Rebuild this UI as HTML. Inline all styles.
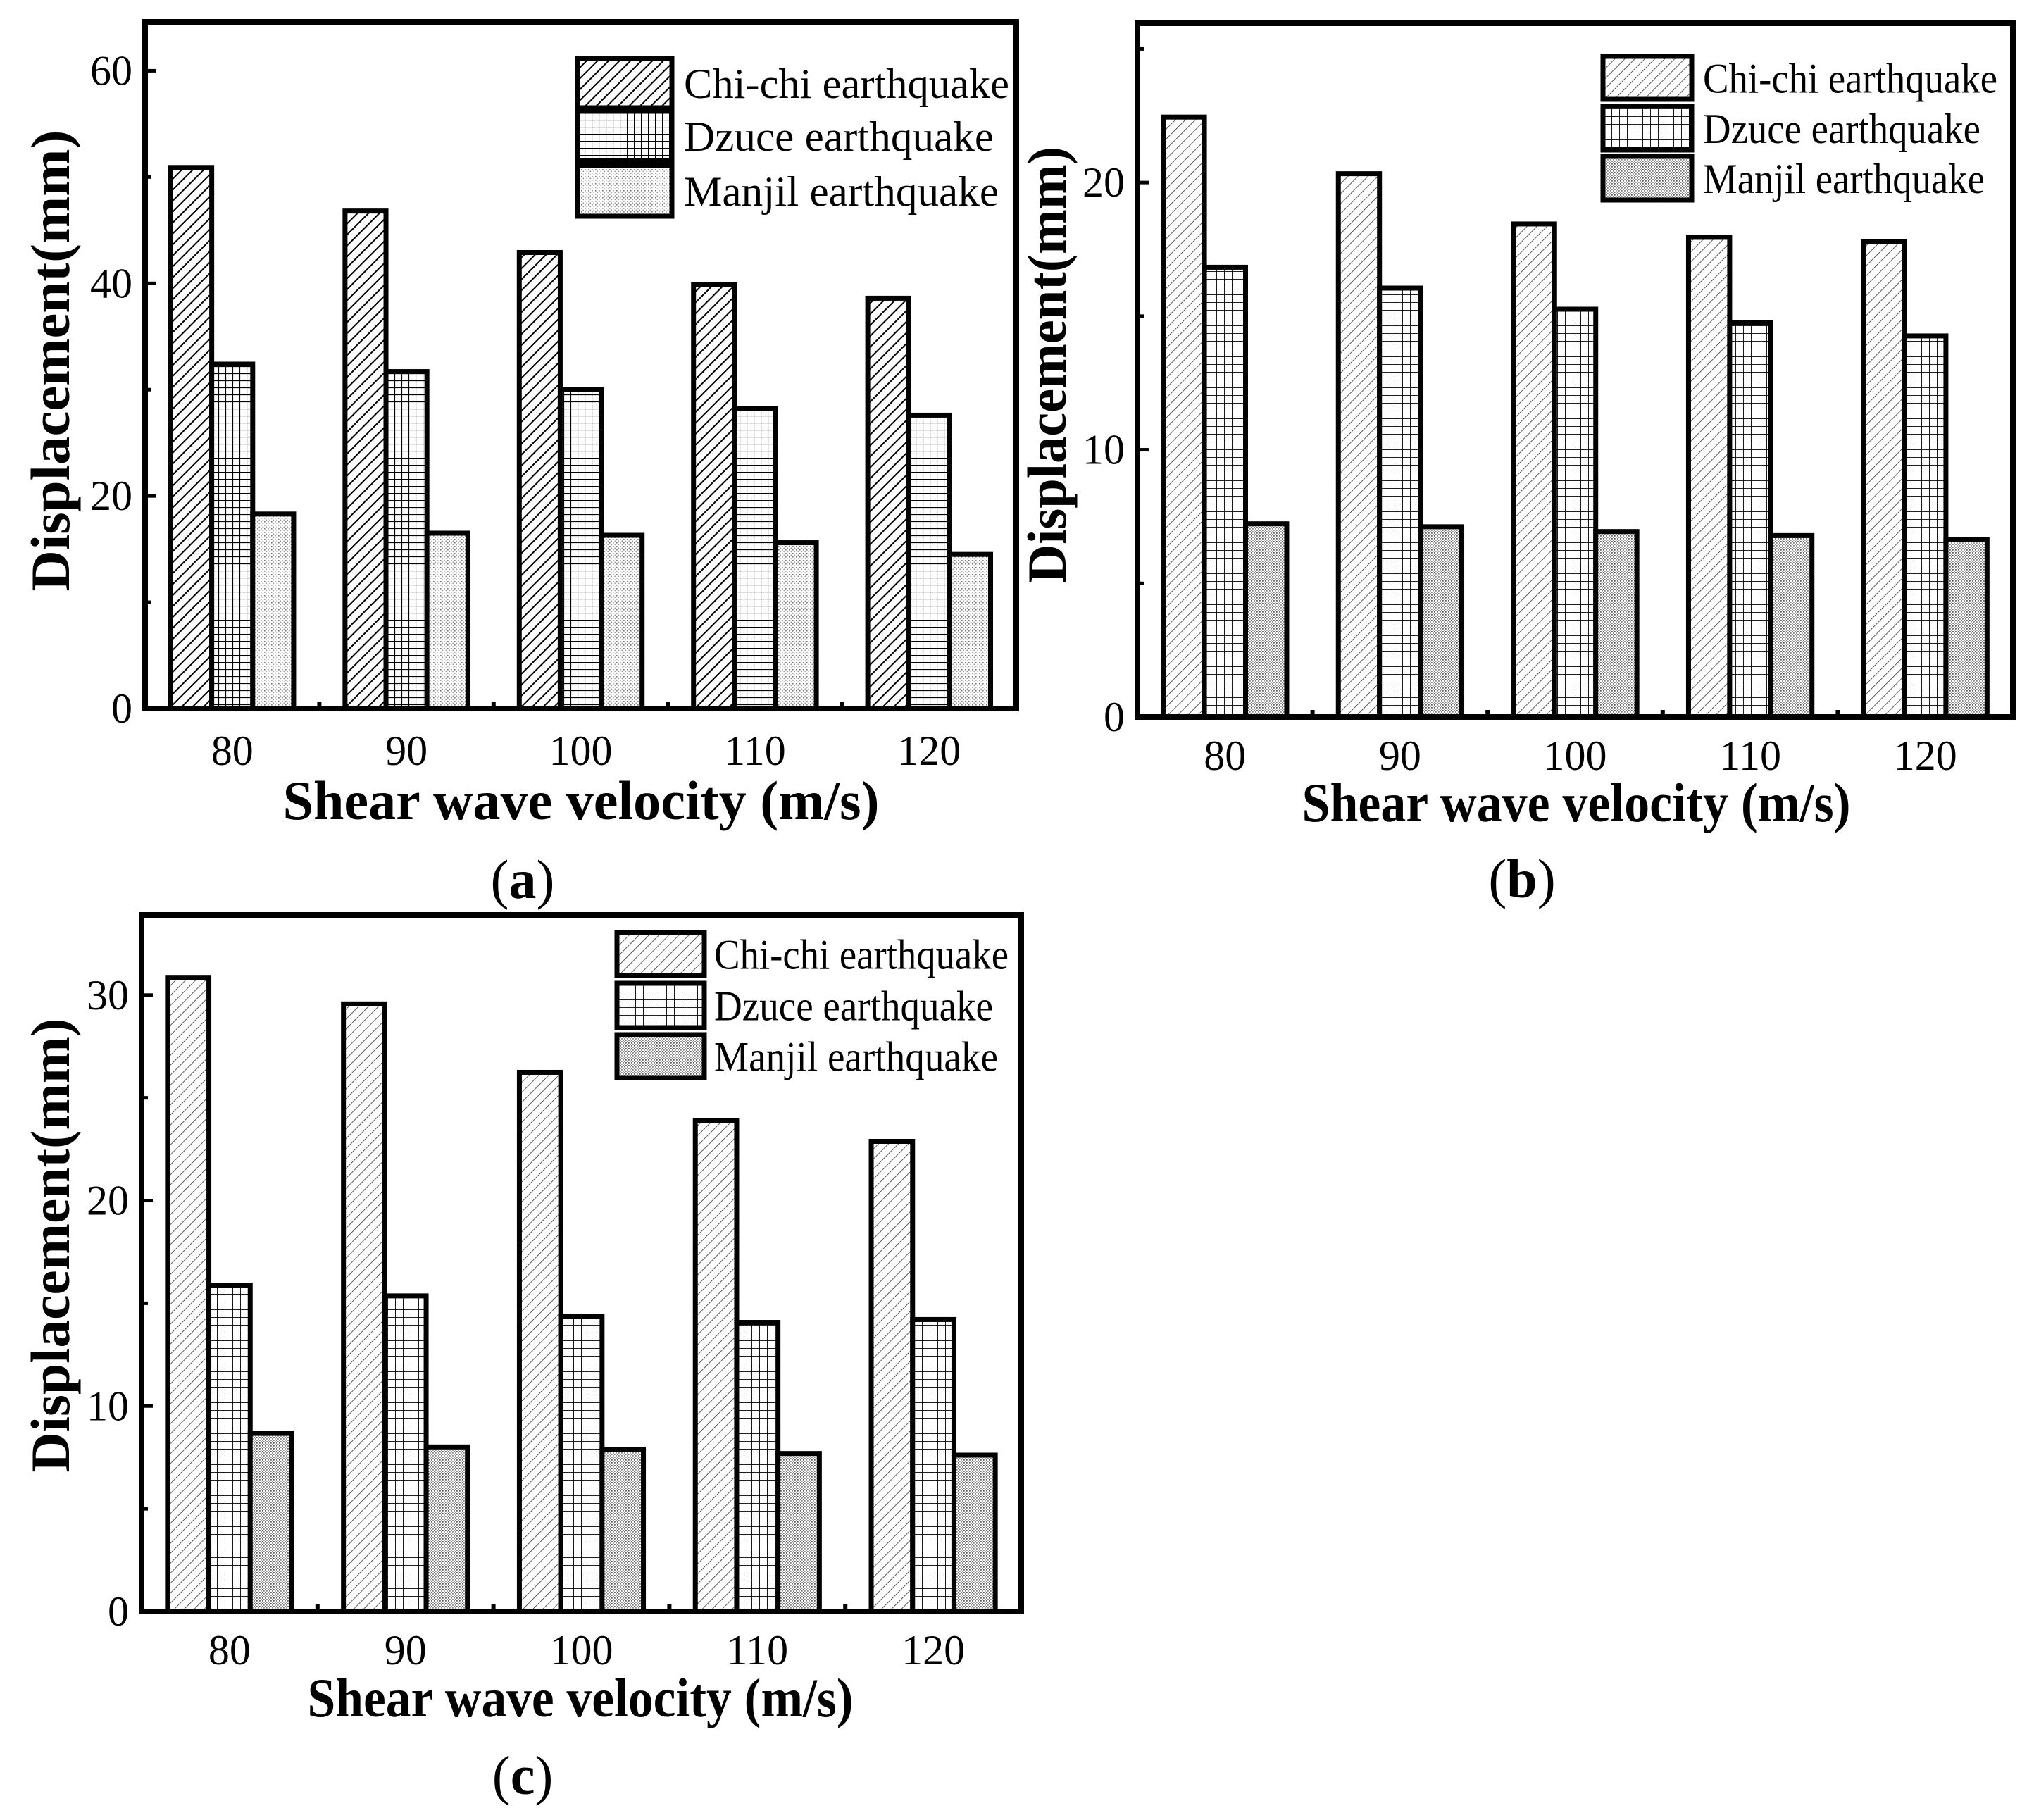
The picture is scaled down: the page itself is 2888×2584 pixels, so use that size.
<!DOCTYPE html>
<html><head><meta charset="utf-8">
<style>
html,body{margin:0;padding:0;background:#fff;}
svg{display:block;}
text{font-family:"Liberation Serif",serif;fill:#000;}
</style></head>
<body>
<svg id="fig" width="2888" height="2584" viewBox="0 0 2888 2584" xmlns="http://www.w3.org/2000/svg">
<defs>
  <pattern id="hatchA" patternUnits="userSpaceOnUse" width="11" height="11" patternTransform="rotate(45)">
    <rect width="11" height="11" fill="#fff"/><line x1="0" y1="0" x2="0" y2="11" stroke="#000" stroke-width="4"/></pattern>
  <pattern id="gridA" patternUnits="userSpaceOnUse" width="10" height="10">
    <rect width="10" height="10" fill="#fff"/><path d="M0 0H10M0 0V10" stroke="#000" stroke-width="2.2" fill="none"/></pattern>
  <pattern id="dotA" patternUnits="userSpaceOnUse" width="5" height="5">
    <rect width="5" height="5" fill="#fff"/><rect x="0" y="0" width="1.6" height="1.6" fill="#777"/><rect x="2.5" y="2.5" width="1.6" height="1.6" fill="#999"/></pattern>
  <pattern id="hatchB" patternUnits="userSpaceOnUse" width="10" height="10" patternTransform="rotate(45)">
    <rect width="10" height="10" fill="#fff"/><line x1="0" y1="0" x2="0" y2="10" stroke="#333" stroke-width="1.6"/></pattern>
  <pattern id="gridB" patternUnits="userSpaceOnUse" width="11" height="11">
    <rect width="11" height="11" fill="#fff"/><path d="M0 0H11M0 0V11" stroke="#000" stroke-width="1.8" fill="none"/></pattern>
  <pattern id="dotB" patternUnits="userSpaceOnUse" width="4" height="4">
    <rect width="4" height="4" fill="#fff"/><rect x="0" y="0" width="1.8" height="1.8" fill="#666"/><rect x="2" y="2" width="1.8" height="1.8" fill="#888"/></pattern>
</defs>
</svg>
<script>
const categories = ["80","90","100","110","120"];
const seriesNames = ["Chi-chi earthquake","Dzuce earthquake","Manjil earthquake"];
const aChichi = [50.9, 46.8, 42.9, 39.9, 38.6];
const aDzuce = [32.4, 31.7, 30.0, 28.2, 27.6];
const aManjil = [18.3, 16.5, 16.3, 15.6, 14.5];
const aTicks = [0, 20, 40, 60];
const bChichi = [22.45, 20.33, 18.45, 17.95, 17.78];
const bDzuce = [16.83, 16.05, 15.26, 14.76, 14.26];
const bManjil = [7.23, 7.12, 6.94, 6.79, 6.64];
const bTicks = [0, 10, 20];
const cChichi = [30.86, 29.57, 26.24, 23.89, 22.88];
const cDzuce = [15.88, 15.36, 14.35, 14.07, 14.21];
const cManjil = [8.67, 8.01, 7.87, 7.69, 7.61];
const cTicks = [0, 10, 20, 30];

const NS = "http://www.w3.org/2000/svg";
const svg = document.getElementById("fig");
function mk(tag, attrs, parent){
  const e = document.createElementNS(NS, tag);
  for (const k in attrs) e.setAttribute(k, attrs[k]);
  (parent||svg).appendChild(e);
  return e;
}

const panels = [
  {id:"a", L:206, R:1443, T:31, B:1006, ymax:64.6, minor:10, ticks:aTicks, series:[aChichi,aDzuce,aManjil],
   fills:["url(#hatchA)","url(#gridA)","url(#dotA)"],
   leg:{x:820, w:134, ys:[[83,153],[158,228],[235,307]], tx:971, lens:[462,440,447]},
   tickBase:1086, titleBase:1163, titleX:825, titleLen:847, labBase:1275, labX:742, yTitleX:72, yTitleY:512, yLen:655},
  {id:"b", L:1615, R:2858, T:33, B:1018, ymax:25.96, minor:5, ticks:bTicks, series:[bChichi,bDzuce,bManjil],
   fills:["url(#hatchB)","url(#gridB)","url(#dotB)"],
   leg:{x:2276, w:126, ys:[[80,141],[151,213],[222,284]], tx:2418, lens:[418,394,400]},
   tickBase:1093, titleBase:1166, titleX:2238, titleLen:779, labBase:1274, labX:2161, yTitleX:1487, yTitleY:518, yLen:620},
  {id:"c", L:201, R:1450, T:1299, B:2288, ymax:33.9, minor:5, ticks:cTicks, series:[cChichi,cDzuce,cManjil],
   fills:["url(#hatchB)","url(#gridB)","url(#dotB)"],
   leg:{x:876, w:124, ys:[[1324,1385],[1396,1459],[1469,1530]], tx:1014, lens:[418,396,403]},
   tickBase:2363, titleBase:2437, titleX:824, titleLen:775, labBase:2547, labX:742, yTitleX:72, yTitleY:1768, yLen:645}
];

panels.forEach(p=>{
  const g = mk("g", {});
  
  
  const band = (p.R - p.L) / categories.length;
  const xc = i => p.L + (i + 0.5) * band;
  const y = v => p.B - v / p.ymax * (p.B - p.T);
  const bw = band * 0.235;
  p.series.forEach((vals, s)=>{
    vals.forEach((v, i)=>{
      const x0 = xc(i) - 1.5*bw + s*bw;
      const r = mk("rect", {x:x0, y:y(v), width:bw, height:p.B - y(v), fill:p.fills[s], stroke:"#000", "stroke-width":7}, g);
      
      
    });
  });
  const fr = mk("rect", {x:p.L, y:p.T, width:p.R-p.L, height:p.B-p.T, fill:"none", stroke:"#000", "stroke-width":8}, g);
  
  
  for (let v = 0; v <= p.ymax; v += p.minor){
    const major = p.ticks.indexOf(v) >= 0;
    mk("line", {x1:p.L, x2:p.L + (major?16:9), y1:y(v), y2:y(v), stroke:"#000", "stroke-width":5}, g);
  }
  p.ticks.forEach(v=>{
    const t = mk("text", {x:p.L - 18, y:y(v) + 20, "text-anchor":"end", "font-size":60}, g);
    t.textContent = v;
    
    
  });
  for (let i = 1; i < categories.length; i++){
    mk("line", {x1:p.L + i*band, x2:p.L + i*band, y1:p.B, y2:p.B - 10, stroke:"#000", "stroke-width":6}, g);
  }
  categories.forEach((c, i)=>{
    const t = mk("text", {x:xc(i), y:p.tickBase, "text-anchor":"middle", "font-size":60}, g);
    t.textContent = c;
    
    
  });
  const xt = mk("text", {x:p.titleX, y:p.titleBase, "text-anchor":"middle", "font-size":78, "font-weight":"bold", textLength:p.titleLen, lengthAdjust:"spacingAndGlyphs"}, g);
  xt.textContent = "Shear wave velocity (m/s)";
  
  
  const yt = mk("text", {x:0, y:0, "text-anchor":"middle", "font-size":78, "font-weight":"bold", textLength:p.yLen, lengthAdjust:"spacingAndGlyphs", transform:`translate(${p.yTitleX + 26},${p.yTitleY}) rotate(-90)`}, g);
  yt.textContent = "Displacement(mm)";
  
  
  const lb = mk("text", {x:p.labX, y:p.labBase, "text-anchor":"middle", "font-size":78}, g);
  lb.innerHTML = '(<tspan font-weight="bold">' + p.id + '</tspan>)';
  
  
  seriesNames.forEach((n, s)=>{
    const [y0, y1] = p.leg.ys[s];
    const r = mk("rect", {x:p.leg.x, y:y0, width:p.leg.w, height:y1-y0, fill:p.fills[s], stroke:"#000", "stroke-width":7}, g);
    
    
    const t = mk("text", {x:p.leg.tx, y:(y0+y1)/2 + 21, "font-size":60, textLength:p.leg.lens[s], lengthAdjust:"spacingAndGlyphs"}, g);
    t.textContent = n;
    
    
  });
});
</script>
</body></html>
